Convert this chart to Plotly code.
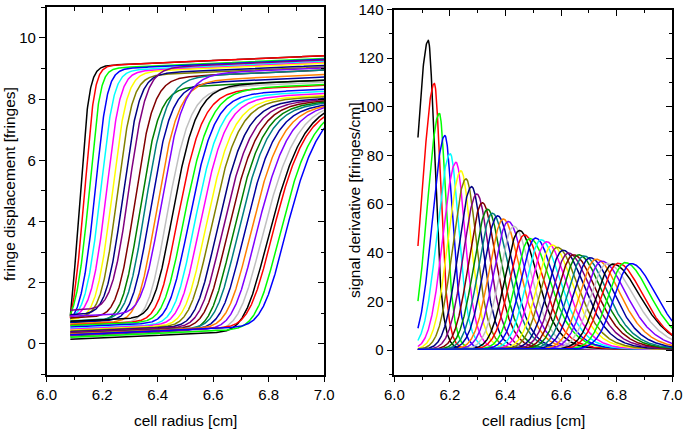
import numpy as np
import plotly.graph_objects as go

# ---------------- data ----------------
# one entry per boundary scan (38 scans), in drawing order
peak_radius = [6.122, 6.144, 6.162, 6.182, 6.201, 6.222, 6.240, 6.258, 6.278, 6.297,
               6.317, 6.336, 6.353, 6.372, 6.392, 6.410, 6.430, 6.450, 6.468, 6.488,
               6.508, 6.528, 6.548, 6.568, 6.586, 6.607, 6.626, 6.644, 6.663, 6.682,
               6.704, 6.726, 6.746, 6.766, 6.786, 6.805, 6.830, 6.852]
peak_height = [126.9, 109.2, 96.9, 87.8, 80.3, 76.8, 73.3, 70.0, 66.8, 63.8,
               60.2, 57.5, 55.9, 54.8, 53.5, 52.5, 50.5, 48.8, 47.0, 45.5,
               45.7, 45.0, 44.2, 42.8, 41.9, 40.7, 39.5, 38.8, 38.8, 38.3,
               37.6, 37.0, 36.2, 35.2, 35.0, 35.3, 35.6, 35.2]
# fringe displacement at the meniscus (r = 6.085 cm)
start_value = [0.90, 0.85, 0.95, 0.80, 0.85, 0.90, 0.80, 0.85, 0.95, 1.10,
               0.85, 0.70, 0.75, 0.70, 0.65, 0.90, 0.60, 0.74, 0.62, 0.60,
               0.55, 0.50, 0.48, 0.45, 0.42, 0.40, 0.38, 0.35, 0.25, 0.33,
               0.30, 0.32, 0.28, 0.22, 0.15, 0.30, 0.22, 0.30]
# fringe displacement at r = 7.0 cm
end_value = [9.42, 9.42, 9.33, 9.30, 9.24, 9.20, 9.17, 9.05, 9.10, 9.28,
             8.95, 8.62, 8.95, 8.72, 8.80, 9.02, 8.55, 8.62, 8.45, 8.48,
             8.32, 8.25, 8.18, 8.12, 8.08, 8.02, 7.98, 7.94, 7.90, 7.86,
             7.80, 7.76, 7.72, 7.64, 7.54, 7.42, 7.25, 7.05]
# width (cm) of the leading edge of each derivative peak
lead_width = [0.0426, 0.0429, 0.0432, 0.0450, 0.0465, 0.0470, 0.0475, 0.0480, 0.0485, 0.0490,
              0.0490, 0.0500, 0.0500, 0.0510, 0.0510, 0.0520, 0.0520, 0.0520, 0.0530, 0.0530,
              0.0540, 0.0540, 0.0550, 0.0550, 0.0560, 0.0560, 0.0570, 0.0570, 0.0580, 0.0580,
              0.0590, 0.0590, 0.0600, 0.0600, 0.0600, 0.0610, 0.0610, 0.0610]
meniscus = 6.085
plateau_slope = 0.4          # fringes/cm
r_end = 7.0

x_ticks = [6.0, 6.2, 6.4, 6.6, 6.8, 7.0]
x_tick_text = ["6.0", "6.2", "6.4", "6.6", "6.8", "7.0"]
left_y_ticks = [0, 2, 4, 6, 8, 10]
right_y_ticks = [0, 20, 40, 60, 80, 100, 120, 140]

origin_colors = ["#000000", "#FF0000", "#00FF00", "#0000FF", "#00FFFF", "#FF00FF",
                 "#FFFF00", "#808000", "#000080", "#800080", "#800000", "#008000",
                 "#008080", "#0000A0", "#FF8000", "#8000FF", "#C0C0C0"]

# ---------------- boundary shapes ----------------
r = np.round(np.arange(meniscus, r_end + 1e-9, 0.001), 4)


def peak(c, h, wl, wr):
    d = r - c
    lead = h * np.exp(-0.5 * (d / wl) ** 2)
    trail = h / np.cosh(d / (2 * wr)) ** 2
    return np.where(d < 0, lead, trail)


def cumulative(f):
    out = np.zeros_like(f)
    out[1:] = np.cumsum(0.5 * (f[1:] + f[:-1]) * np.diff(r))
    return out


curves = []
for c, h, y0, y7, wl in zip(peak_radius, peak_height, start_value, end_value, lead_width):
    target = y7 - y0 - plateau_slope * (r_end - meniscus)
    lo, hi = 0.004, 0.25
    for _ in range(50):
        mid = 0.5 * (lo + hi)
        if cumulative(peak(c, h, wl, mid))[-1] < target:
            lo = mid
        else:
            hi = mid
    p = peak(c, h, wl, 0.5 * (lo + hi))
    disp = y0 + plateau_slope * (r - meniscus) + cumulative(p)
    deriv = p + plateau_slope
    curves.append((disp, deriv))

fig = go.Figure()
for i, (disp, deriv) in enumerate(curves):
    col = origin_colors[i % len(origin_colors)]
    fig.add_trace(go.Scatter(x=r, y=disp, mode="lines", line=dict(color=col, width=1.5),
                             xaxis="x", yaxis="y", showlegend=False, hoverinfo="skip"))
for i, (disp, deriv) in enumerate(curves):
    col = origin_colors[i % len(origin_colors)]
    fig.add_trace(go.Scatter(x=r, y=deriv, mode="lines", line=dict(color=col, width=1.5),
                             xaxis="x2", yaxis="y2", showlegend=False, hoverinfo="skip"))

# dummy traces to activate mirror-tick overlay axes
for xa, ya in (("x3", "y3"), ("x4", "y4")):
    fig.add_trace(go.Scatter(x=[None], y=[None], xaxis=xa, yaxis=ya,
                             showlegend=False, hoverinfo="skip"))

FONT = "Liberation Sans, Arial, sans-serif"
tick_font = dict(family=FONT, size=15, color="black")

W, H = 683, 429
left_dom = [46.7 / W, 324.3 / W]
right_dom = [394.3 / W, 672.3 / W]
left_y_dom = [(H - 374.5) / H, (H - 7.3) / H]
right_y_dom = [(H - 374.5) / H, (H - 9.5) / H]

x_range = [5.9999, 7.0001]
left_y_range = [-1, 11]
right_y_range = [-10, 140.02]

common_x = dict(range=x_range, tickvals=x_ticks, ticktext=x_tick_text, showgrid=False,
                zeroline=False, automargin=False, ticklabeloverflow="allow")


def main_x(domain, anchor):
    return dict(**common_x, domain=domain, anchor=anchor, ticks="outside", ticklen=6,
                tickwidth=1.3, tickcolor="black", showline=True, linewidth=1.5,
                linecolor="black", mirror=True, tickfont=tick_font,
                minor=dict(dtick=0.1, tick0=6.0, ticks="outside", ticklen=3.5,
                           tickwidth=1.3, tickcolor="black"))


def main_y(domain, anchor, rng, ticks, minor_dtick):
    return dict(domain=domain, anchor=anchor, range=rng, tickvals=ticks, showgrid=False,
                zeroline=False, automargin=False, ticklabeloverflow="allow",
                ticks="outside", ticklen=6, tickwidth=1.3,
                tickcolor="black", showline=True, linewidth=1.5, linecolor="black",
                mirror=True, tickfont=tick_font,
                minor=dict(dtick=minor_dtick, tick0=0, ticks="outside", ticklen=3.5,
                           tickwidth=1.3, tickcolor="black"))


def mirror_x(over, anchor):
    return dict(**common_x, overlaying=over, anchor=anchor, side="top", ticks="inside",
                ticklen=6, tickwidth=1.3, tickcolor="black", showticklabels=False,
                showline=False,
                minor=dict(dtick=0.1, tick0=6.0, ticks="inside", ticklen=3.5,
                           tickwidth=1.3, tickcolor="black"))


def mirror_y(over, anchor, rng, ticks, minor_dtick):
    return dict(overlaying=over, anchor=anchor, side="right", range=rng, tickvals=ticks,
                showgrid=False, zeroline=False, automargin=False, ticks="inside", ticklen=6,
                tickwidth=1.3, tickcolor="black", showticklabels=False, showline=False,
                minor=dict(dtick=minor_dtick, tick0=0, ticks="inside", ticklen=3.5,
                           tickwidth=1.3, tickcolor="black"))


title_font = dict(family=FONT, size=15.5, color="black")

fig.update_layout(
    template="none",
    width=W, height=H,
    margin=dict(l=0, r=0, t=0, b=0, autoexpand=False),
    paper_bgcolor="white", plot_bgcolor="white",
    hovermode=False,
    xaxis=main_x(left_dom, "y"),
    yaxis=main_y(left_y_dom, "x", left_y_range, left_y_ticks, 1),
    xaxis2=main_x(right_dom, "y2"),
    yaxis2=main_y(right_y_dom, "x2", right_y_range, right_y_ticks, 10),
    xaxis3=mirror_x("x", "y"),
    yaxis3=mirror_y("y", "x", left_y_range, left_y_ticks, 1),
    xaxis4=mirror_x("x2", "y2"),
    yaxis4=mirror_y("y2", "x2", right_y_range, right_y_ticks, 10),
    annotations=[
        dict(text="cell radius [cm]", x=185.5 / W, y=(H - 420) / H, xref="paper", yref="paper",
             showarrow=False, font=title_font, xanchor="center", yanchor="middle"),
        dict(text="cell radius [cm]", x=533 / W, y=(H - 420) / H, xref="paper", yref="paper",
             showarrow=False, font=title_font, xanchor="center", yanchor="middle"),
        dict(text="fringe displacement [fringes]", x=9 / W, y=(H - 184) / H, xref="paper",
             yref="paper", showarrow=False, font=title_font, textangle=-90,
             xanchor="center", yanchor="middle"),
        dict(text="signal derivative [fringes/cm]", x=354 / W, y=(H - 200) / H, xref="paper",
             yref="paper", showarrow=False, font=title_font, textangle=-90,
             xanchor="center", yanchor="middle"),
    ],
)

fig.write_html("out.html", config={"displayModeBar": False},
               post_script="document.body.style.margin='0';document.body.style.overflow='hidden';")
